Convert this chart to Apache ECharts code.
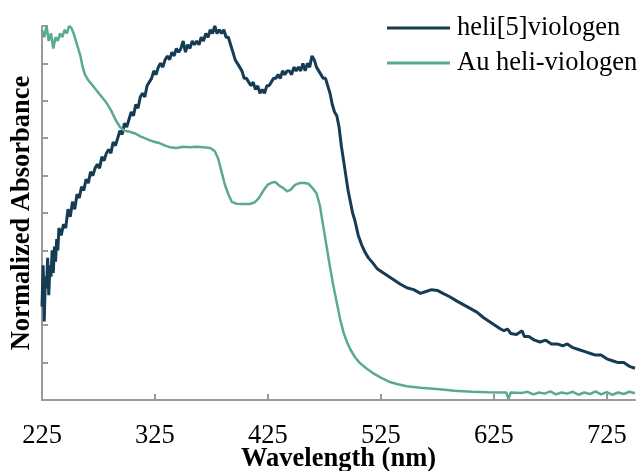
<!DOCTYPE html>
<html>
<head>
<meta charset="utf-8">
<script src="https://cdn.jsdelivr.net/npm/echarts@6/dist/echarts.min.js"></script>
<style>html,body{margin:0;padding:0;background:#fff}#c{width:643px;height:471px}</style>
</head>
<body>
<div id="c"></div>
<script>
const seriesNames = ['heli[5]viologen', 'Au heli-viologen'];
const xTickValues = [225, 325, 425, 525, 625, 725];

const heliWl = [225,226,227,228,229,230,231,232,233,234,235,236,237,238,239,240,242,244,246,248,250,252,254,256,258,260,262,264,266,268,270,272,274,276,278,280,282,284,286,288,290,292,294,296,298,300,302,304,306,308,310,312,314,316,318,320,322,324,326,328,330,332,334,336,338,340,342,344,346,348,350,352,354,356,358,360,362,364,366,368,370,372,374,376,378,380,382,384,386,388,390,392,394,396,398,400,402,404,406,408,410,412,414,416,418,420,422,424,426,428,430,432,434,436,438,440,442,444,446,448,450,452,454,456,458,460,462,464,466,468,470,472,474,476,478,480,482,484,486,488,490,492,494,496,498,500,502,505,508,511,514,518,522,527,532,537,542,548,554,560,565,570,575,580,586,592,598,604,610,616,621,626,631,634,637,640,645,650,652,656,661,666,671,676,681,686,690,695,700,705,710,715,720,725,730,735,740,745,750];
const heliAbs = [0.25,0.36,0.21,0.33,0.30,0.38,0.28,0.36,0.33,0.40,0.34,0.41,0.37,0.43,0.40,0.46,0.44,0.47,0.46,0.51,0.49,0.53,0.51,0.55,0.54,0.57,0.56,0.59,0.58,0.61,0.60,0.62,0.63,0.62,0.65,0.64,0.66,0.67,0.66,0.69,0.68,0.70,0.72,0.71,0.74,0.73,0.75,0.77,0.76,0.79,0.78,0.81,0.82,0.81,0.84,0.85,0.86,0.88,0.87,0.89,0.90,0.89,0.91,0.92,0.91,0.93,0.92,0.94,0.93,0.94,0.96,0.93,0.95,0.94,0.96,0.95,0.96,0.95,0.97,0.96,0.98,0.97,0.99,0.98,1.0,0.98,0.99,0.98,0.99,0.97,0.97,0.95,0.93,0.91,0.90,0.89,0.88,0.86,0.86,0.85,0.84,0.85,0.83,0.84,0.82,0.83,0.82,0.84,0.84,0.85,0.86,0.86,0.87,0.86,0.88,0.87,0.88,0.88,0.87,0.89,0.88,0.89,0.88,0.90,0.88,0.90,0.89,0.92,0.91,0.89,0.88,0.87,0.86,0.86,0.84,0.82,0.79,0.77,0.76,0.73,0.68,0.64,0.60,0.56,0.53,0.50,0.48,0.44,0.415,0.395,0.38,0.366,0.35,0.34,0.33,0.32,0.31,0.30,0.295,0.285,0.29,0.295,0.293,0.285,0.276,0.265,0.255,0.245,0.235,0.22,0.21,0.20,0.19,0.185,0.19,0.178,0.175,0.185,0.17,0.17,0.16,0.155,0.16,0.15,0.15,0.145,0.15,0.14,0.135,0.13,0.125,0.12,0.12,0.11,0.105,0.10,0.10,0.09,0.085];

const auWl = [225,227,229,231,233,235,237,239,241,243,245,247,249,251,253,255,257,259,261,263,266,270,274,278,282,286,290,294,298,303,308,312,316,320,325,329,334,338,344,350,356,362,368,374,378,381,384,387,390,393,397,403,409,413,417,421,425,429,432,435,439,442,445,449,453,457,461,465,468,471,474,477,480,483,486,489,492,495,498,502,506,512,518,525,533,540,548,560,577,590,606,620,636,638,640,650,655,660,665,670,675,680,685,690,695,700,705,710,715,720,725,730,735,740,745,750];
const auAbs = [0.99,0.97,1.0,0.96,0.98,0.94,0.97,0.96,0.98,0.97,0.99,0.98,1.0,0.995,0.98,0.96,0.94,0.92,0.89,0.87,0.855,0.84,0.825,0.81,0.795,0.775,0.75,0.73,0.72,0.717,0.712,0.705,0.70,0.695,0.69,0.687,0.68,0.676,0.674,0.677,0.676,0.677,0.676,0.674,0.665,0.645,0.61,0.575,0.55,0.53,0.525,0.524,0.524,0.528,0.54,0.56,0.576,0.582,0.582,0.573,0.566,0.558,0.562,0.575,0.58,0.58,0.578,0.565,0.553,0.52,0.465,0.41,0.355,0.305,0.26,0.215,0.18,0.155,0.135,0.115,0.10,0.085,0.072,0.06,0.048,0.042,0.037,0.033,0.029,0.025,0.022,0.021,0.02,0.003,0.02,0.019,0.022,0.015,0.02,0.017,0.023,0.015,0.02,0.017,0.022,0.014,0.02,0.016,0.023,0.015,0.021,0.014,0.02,0.016,0.022,0.018];

const zip = (xs, ys) => xs.map((x, i) => [x, ys[i]]);
const serif = '"Liberation Serif", "DejaVu Serif", serif';
const axisGray = '#9a9a9a';
const fs = 26.5;

const chart = echarts.init(document.getElementById('c'));
chart.setOption({
  animation: false,
  grid: { left: 42, right: 8, top: 26, bottom: 71, containLabel: false, outerBoundsMode: 'none' },
  legend: {
    orient: 'vertical',
    left: 387, top: 14, padding: 0,
    itemWidth: 63, itemHeight: 3, itemGap: 7,
    icon: 'rect',
    textStyle: { fontFamily: serif, fontSize: fs, color: '#000', lineHeight: 28, padding: [0, 0, 0, 2] },
    data: seriesNames
  },
  xAxis: {
    type: 'value', min: 225, max: 750,
    name: 'Wavelength (nm)', nameLocation: 'middle', nameGap: 46, nameMoveOverlap: false,
    nameTextStyle: { fontFamily: serif, fontSize: fs, fontWeight: 'bold', color: '#000' },
    axisLine: { lineStyle: { color: axisGray, width: 2 } },
    axisTick: { inside: true, length: 6, lineStyle: { color: axisGray, width: 2 }, customValues: xTickValues },
    axisLabel: { margin: 23, fontFamily: serif, fontSize: fs, color: '#000', customValues: xTickValues },
    splitLine: { show: false }
  },
  yAxis: {
    type: 'value', min: 0, max: 1, interval: 0.1,
    name: 'Normalized Absorbance', nameLocation: 'middle', nameGap: 6, nameMoveOverlap: false,
    nameTextStyle: { fontFamily: serif, fontSize: fs, fontWeight: 'bold', color: '#000' },
    axisLine: { show: true, lineStyle: { color: axisGray, width: 2 } },
    axisTick: { show: true, inside: true, length: 6, lineStyle: { color: axisGray, width: 2 } },
    axisLabel: { show: false },
    splitLine: { show: false }
  },
  series: [
    { name: seriesNames[0], type: 'line', data: zip(heliWl, heliAbs), showSymbol: false, symbol: 'none',
      lineStyle: { color: '#163c54', width: 3 }, itemStyle: { color: '#163c54' } },
    { name: seriesNames[1], type: 'line', data: zip(auWl, auAbs), showSymbol: false, symbol: 'none',
      lineStyle: { color: '#5aaa92', width: 2.5 }, itemStyle: { color: '#5aaa92' } }
  ]
});
</script>
</body>
</html>
